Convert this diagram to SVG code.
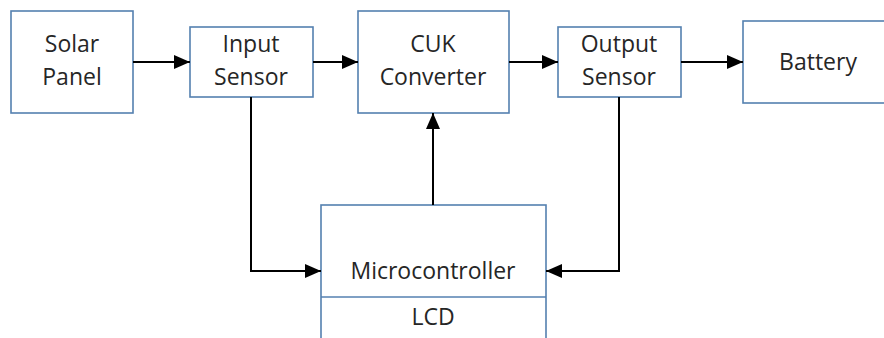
<svg xmlns="http://www.w3.org/2000/svg" width="884" height="338" viewBox="0 0 884 338">
  <style>
    .box { fill: #ffffff; stroke: #5480b0; stroke-width: 1.6; }
    .lbl { font-family: "Open Sans", "Liberation Sans", sans-serif; font-size: 23px; fill: #262626; text-anchor: middle; }
    .wire { fill: none; stroke: #000000; stroke-width: 2; }
  </style>
  <defs>
    <marker id="arrow" viewBox="0 0 16 14" refX="16" refY="7" markerWidth="16" markerHeight="14" markerUnits="userSpaceOnUse" orient="auto">
      <path d="M0,0 L16,7 L0,14 Z" fill="#000000"/>
    </marker>
  </defs>
  <rect width="884" height="338" fill="#ffffff"/>

  <g id="solar-panel">
    <rect class="box" x="11" y="11" width="122" height="102"/>
    <text class="lbl" x="72" y="52">Solar</text>
    <text class="lbl" x="72" y="85">Panel</text>
  </g>

  <g id="input-sensor">
    <rect class="box" x="190" y="27" width="123" height="70"/>
    <text class="lbl" x="251" y="52">Input</text>
    <text class="lbl" x="251" y="85">Sensor</text>
  </g>

  <g id="cuk-converter">
    <rect class="box" x="358" y="11" width="151" height="102"/>
    <text class="lbl" x="433" y="52">CUK</text>
    <text class="lbl" x="433" y="85">Converter</text>
  </g>

  <g id="output-sensor">
    <rect class="box" x="558" y="27" width="123" height="70"/>
    <text class="lbl" x="619" y="52">Output</text>
    <text class="lbl" x="619" y="85">Sensor</text>
  </g>

  <g id="battery">
    <rect class="box" x="743" y="21" width="150" height="82"/>
    <text class="lbl" x="818" y="70">Battery</text>
  </g>

  <g id="microcontroller">
    <rect class="box" x="321" y="205" width="225" height="145"/>
    <line class="box" x1="321" y1="297" x2="546" y2="297"/>
    <text class="lbl" x="433" y="279">Microcontroller</text>
    <text class="lbl" x="433" y="325">LCD</text>
  </g>

  <g id="connectors">
    <line class="wire" x1="133" y1="62" x2="190" y2="62" marker-end="url(#arrow)"/>
    <line class="wire" x1="313" y1="62" x2="358" y2="62" marker-end="url(#arrow)"/>
    <line class="wire" x1="509" y1="62" x2="558" y2="62" marker-end="url(#arrow)"/>
    <line class="wire" x1="681" y1="62" x2="743" y2="62" marker-end="url(#arrow)"/>
    <polyline class="wire" points="251,97 251,271 321,271" marker-end="url(#arrow)"/>
    <polyline class="wire" points="619,97 619,271 546,271" marker-end="url(#arrow)"/>
    <line class="wire" x1="433" y1="205" x2="433" y2="113" marker-end="url(#arrow)"/>
  </g>
</svg>
